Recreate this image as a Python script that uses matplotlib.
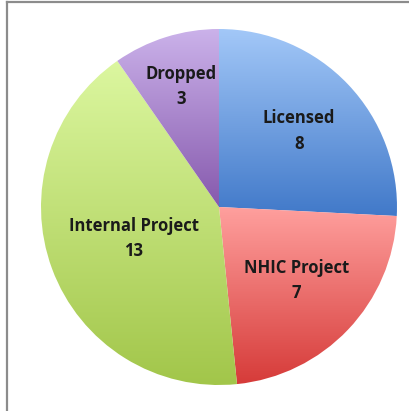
import numpy as np
import matplotlib.pyplot as plt
from matplotlib.colors import LinearSegmentedColormap
from matplotlib.lines import Line2D

labels = ['Licensed', 'NHIC Project', 'Internal Project', 'Dropped']
values = [8, 7, 13, 3]
top_colors = ['#a3c8f8', '#ffa09e', '#dcf7a0', '#cbb2ea']
bottom_colors = ['#4179c9', '#d63b39', '#a2c64a', '#8659ad']
label_dist = [0.62, 0.60, 0.51, 0.71]

W, H = 409, 411
fig = plt.figure(figsize=(W / 100, H / 100), dpi=100)
ax = fig.add_axes([0, 0, 1, 1])

# frame: only top and left edges show
fig.lines.append(Line2D([6.5 / W, 1], [1 - 2.5 / H, 1 - 2.5 / H], transform=fig.transFigure,
                        color='#8c8c8c', linewidth=1.6))
fig.lines.append(Line2D([6.5 / W, 6.5 / W], [0, 1 - 2.5 / H], transform=fig.transFigure,
                        color='#8c8c8c', linewidth=1.6))

cx, cy, r = 219, H - 207, 178
wedges, _ = ax.pie(values, startangle=90, counterclock=False, center=(cx, cy), radius=r,
                   colors=['none'] * len(values), wedgeprops=dict(linewidth=0), frame=True)
ax.set_xlim(0, W)
ax.set_ylim(0, H)
ax.set_aspect('equal')
ax.axis('off')

grad = np.linspace(0, 1, 256).reshape(-1, 1)
inv = ax.transData.inverted()
for w, c0, c1, lab, v, d in zip(wedges, top_colors, bottom_colors, labels, values, label_dist):
    cmap = LinearSegmentedColormap.from_list('g', [c1, c0])
    bb = w.get_window_extent()
    (x0, y0), (x1, y1) = inv.transform([[bb.x0, bb.y0], [bb.x1, bb.y1]])
    im = ax.imshow(grad, cmap=cmap, extent=[x0, x1, y0, y1], origin='lower',
                   aspect='auto', interpolation='bilinear', zorder=2)
    im.set_clip_path(w)
    ang = np.deg2rad((w.theta1 + w.theta2) / 2)
    tx = cx + d * r * np.cos(ang)
    ty = cy + d * r * np.sin(ang)
    ax.text(tx, ty, f'{lab}\n{v}', ha='center', va='center', fontsize=12,
            fontweight='bold', family='Open Sans', color='#1a1a1a',
            linespacing=1.55, zorder=5)

ax.set_xlim(0, W)
ax.set_ylim(0, H)
fig.savefig('out.png', dpi=100)
